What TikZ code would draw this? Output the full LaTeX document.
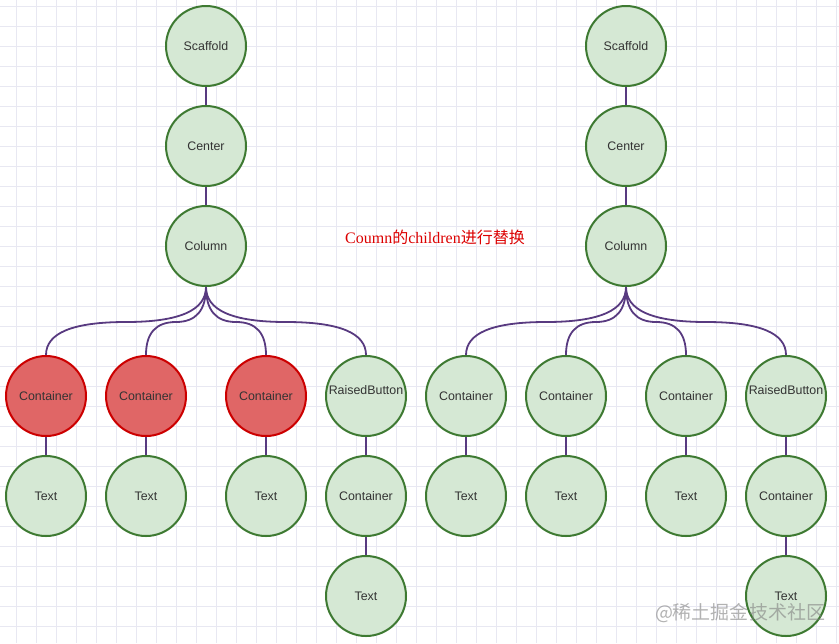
\documentclass[tikz,border=0pt]{standalone}
\usepackage{fontspec}
\setmainfont{Liberation Sans}
\newfontfamily\notefont{Liberation Serif}
\newfontfamily\cjk{Noto Sans CJK SC}
\usetikzlibrary{calc}

\definecolor{gridline}{RGB}{232,232,242}
\definecolor{leaffill}{RGB}{213,232,212}
\definecolor{leafdraw}{RGB}{62,122,50}
\definecolor{oldfill}{RGB}{224,102,102}
\definecolor{olddraw}{RGB}{204,0,0}
\definecolor{linkcolor}{RGB}{88,58,128}
\definecolor{nodetext}{RGB}{51,51,51}
\definecolor{notered}{RGB}{220,0,0}

\tikzset{
  widget/.style={circle, draw=leafdraw, fill=leaffill, line width=1pt,
    minimum size=40pt, inner sep=0pt, text=nodetext,
    font=\fontsize{6.2}{7}\selectfont},
  replaced/.style={widget, draw=olddraw, fill=oldfill},
  link/.style={draw=linkcolor, line width=0.9pt},
}

% curved branch from a parent's bottom to a child's top
\newcommand{\branch}[2]{%
  \coordinate (k1) at ($(#1.south)+(0,35)$);
  \coordinate (k2) at (#2.north |- k1);
  \coordinate (km) at ($(k1)!0.5!(k2)$);
  \draw[link] (#1.south)
    .. controls ($(#1.south)!0.667!(k1)$) and ($(km)!0.667!(k1)$) .. (km)
    .. controls ($(km)!0.667!(k2)$) and ($(#2.north)!0.667!(k2)$) .. (#2.north);
}

\begin{document}
\begin{tikzpicture}[x=0.5pt, y=-0.5pt]

  % page and grid
  \useasboundingbox (0,0) rectangle (839,643);
  \fill[white] (0,0) rectangle (839,643);
  \foreach \gx in {16,36,...,839}
    \draw[gridline, line width=0.4pt] (\gx,0) -- (\gx,643);
  \foreach \gy in {6,26,...,643}
    \draw[gridline, line width=0.4pt] (0,\gy) -- (839,\gy);

  % left tree
  \node[widget] (lscaffold) at (206,46) {Scaffold};
  \node[widget] (lcenter) at (206,146) {Center};
  \node[widget] (lcolumn) at (206,246) {Column};
  \node[replaced] (lbox1) at (46,396) {Container};
  \node[replaced] (lbox2) at (146,396) {Container};
  \node[replaced] (lbox3) at (266,396) {Container};
  \node[widget, label={[text=nodetext, font=\fontsize{6.2}{7}\selectfont, yshift=3pt]center:RaisedButton}] (lbutton) at (366,396) {};
  \node[widget] (ltext1) at (46,496) {Text};
  \node[widget] (ltext2) at (146,496) {Text};
  \node[widget] (ltext3) at (266,496) {Text};
  \node[widget] (lbox4) at (366,496) {Container};
  \node[widget] (ltext4) at (366,596) {Text};

  % right tree
  \node[widget] (rscaffold) at (626,46) {Scaffold};
  \node[widget] (rcenter) at (626,146) {Center};
  \node[widget] (rcolumn) at (626,246) {Column};
  \node[widget] (rbox1) at (466,396) {Container};
  \node[widget] (rbox2) at (566,396) {Container};
  \node[widget] (rbox3) at (686,396) {Container};
  \node[widget, label={[text=nodetext, font=\fontsize{6.2}{7}\selectfont, yshift=3pt]center:RaisedButton}] (rbutton) at (786,396) {};
  \node[widget] (rtext1) at (466,496) {Text};
  \node[widget] (rtext2) at (566,496) {Text};
  \node[widget] (rtext3) at (686,496) {Text};
  \node[widget] (rbox4) at (786,496) {Container};
  \node[widget] (rtext4) at (786,596) {Text};

  % straight links
  \foreach \s in {l,r} {
    \draw[link] (\s scaffold) -- (\s center);
    \draw[link] (\s center) -- (\s column);
    \draw[link] (\s box1) -- (\s text1);
    \draw[link] (\s box2) -- (\s text2);
    \draw[link] (\s box3) -- (\s text3);
    \draw[link] (\s button) -- (\s box4);
    \draw[link] (\s box4) -- (\s text4);
  }

  % curved links from the columns
  \branch{lcolumn}{lbox1}
  \branch{lcolumn}{lbox2}
  \branch{lcolumn}{lbox3}
  \branch{lcolumn}{lbutton}
  \branch{rcolumn}{rbox1}
  \branch{rcolumn}{rbox2}
  \branch{rcolumn}{rbox3}
  \branch{rcolumn}{rbutton}

  % note
  \node[text=notered, font=\fontsize{8}{9}\selectfont, inner sep=0pt] (note) at (435,237)
    {\notefont Coumn{\cjk 的}children{\cjk 进行替换}};

  % watermark
  \node[text=gray, opacity=0.6, font=\fontsize{9.5}{11}\selectfont\cjk, inner sep=0pt] (mark) at (740,613)
    {@稀土掘金技术社区};

\end{tikzpicture}
\end{document}
